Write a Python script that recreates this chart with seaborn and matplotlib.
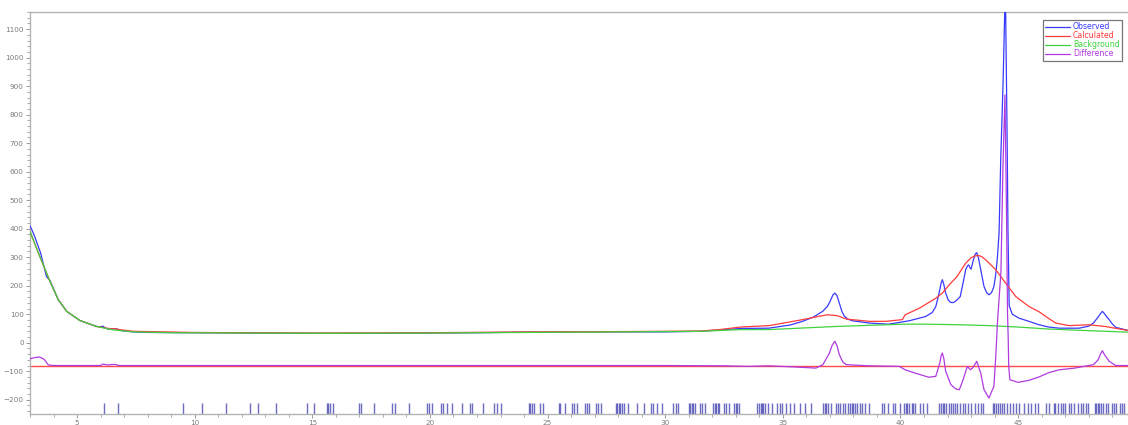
import matplotlib
matplotlib.use("Agg")
import matplotlib.pyplot as plt
from matplotlib.ticker import MultipleLocator
import seaborn as sns
import pandas as pd

# --- observed pattern (2theta, counts) ---
obs_x = [3.0, 3.1, 3.2, 3.45, 3.7, 3.85, 4.2, 4.56, 5.12, 5.83, 6.0, 6.1, 6.2, 6.3, 6.6,
         6.7, 6.9, 7.4, 8.0, 10.0, 12.0, 15.0, 18.0, 20.0, 22.0, 24.0, 26.0, 28.0, 30.0,
         31.5, 32.3, 33.2, 34.4, 35.3, 35.84, 36.3, 36.69, 36.9, 37.04, 37.13, 37.21,
         37.3, 37.4, 37.5, 37.6, 37.75, 37.96, 38.67, 39.5, 40.37, 41.07, 41.35, 41.5,
         41.6, 41.67, 41.73, 41.78, 41.84, 41.92, 42.03, 42.14, 42.26, 42.4, 42.54, 42.66,
         42.77, 42.85, 42.9, 42.96, 43.0, 43.08, 43.17, 43.24, 43.32, 43.41, 43.55, 43.66,
         43.76, 43.87, 43.97, 44.05, 44.12, 44.19, 44.26, 44.36, 44.43, 44.47, 44.53,
         44.57, 44.62, 44.75, 45.04, 45.46, 45.89, 46.3, 46.74, 47.59, 48.0, 48.2, 48.4,
         48.5, 48.58, 48.67, 48.77, 48.87, 49.0, 49.15, 49.67]
obs_y = [410, 392, 372, 315, 232, 218, 151, 110, 78, 57, 56, 58, 52, 48, 49,
         48, 42, 38, 36, 35, 34, 33, 33, 34, 35, 37, 38, 38, 38,
         40, 45, 50, 51, 62, 75, 90, 110, 128, 151, 168, 174,
         165, 139, 112, 95, 83, 77, 69, 65, 77, 92, 106, 127,
         160, 186, 210, 221, 205, 174, 150, 141, 141, 150, 162, 210,
         256, 270, 273, 262, 258, 285, 310, 316, 295, 256, 197, 176,
         168, 176, 197, 240, 300, 385, 641, 910, 1160, 1160, 735,
         385, 130, 100, 86, 75, 63, 55, 51, 51, 58, 69, 90,
         102, 110, 102, 90, 81, 66, 54, 43]

# --- calculated pattern ---
calc_x = [3.0, 3.42, 3.85, 4.2, 4.56, 5.12, 5.83, 6.5, 6.6, 6.8, 7.4, 10.0, 15.0, 20.0,
          24.0, 28.0, 31.5, 32.3, 33.2, 34.42, 35.84, 36.5, 36.9, 37.3, 37.7, 38.67,
          39.37, 40.08, 40.2, 40.8, 41.5, 41.78, 42.07, 42.4, 42.77, 43.0, 43.15, 43.31,
          43.45, 43.62, 44.05, 44.47, 44.9, 45.46, 45.9, 46.3, 46.6, 47.16, 48.0, 48.7,
          49.67]
calc_y = [390, 302, 215, 151, 110, 78, 57, 48, 50, 46, 40, 36, 34, 35,
          38, 39, 41, 46, 55, 60, 81, 92, 98, 95, 83, 75,
          75, 81, 98, 121, 156, 174, 203, 232, 279, 298, 304, 306,
          302, 291, 256, 209, 162, 127, 108, 85, 69, 60, 63, 57,
          43]

# --- refined background ---
bkg_x = [3.0, 3.42, 3.85, 4.2, 4.56, 5.12, 5.83, 6.53, 7.4, 9.0, 12.3, 16.0, 20.0, 24.0,
         28.0, 31.5, 33.2, 34.4, 37.25, 40.08, 41.2, 42.5, 43.76, 45.0, 46.3, 47.5, 49.67]
bkg_y = [390, 302, 215, 151, 110, 78, 57, 45, 38, 35, 34, 33, 34, 36,
         38, 40, 46, 46, 57, 65, 65, 63, 60, 55, 48, 44, 37]

# --- difference curve (observed - calculated), drawn shifted by DIFF_OFFSET ---
DIFF_OFFSET = -80
diff_x = [3.0, 3.1, 3.2, 3.4, 3.6, 3.78, 4.0, 6.0, 6.1, 6.3, 6.6, 6.8, 10.0, 20.0, 30.0,
          32.5, 33.5, 34.4, 35.5, 36.4, 36.7, 36.98, 37.1, 37.21, 37.3, 37.4, 37.55, 37.7,
          38.67, 39.95, 40.2, 40.6, 41.2, 41.5, 41.67, 41.73, 41.78, 41.84, 41.92, 42.14,
          42.35, 42.5, 42.66, 42.84, 42.98, 43.1, 43.24, 43.41, 43.55, 43.76, 43.97,
          44.05, 44.12, 44.27, 44.35, 44.44, 44.5, 44.55, 44.58, 44.6, 44.65, 45.0, 45.46,
          45.89, 46.3, 46.74, 47.4, 48.2, 48.4, 48.5, 48.58, 48.67, 48.87, 49.15, 49.67]
diff_y = [23, 26, 28, 30, 22, 2, 0, 0, 5, 2, 4, 0, 0, 0, 0,
          -1, -3, -1, -5, -9, 3, 44, 72, 85, 70, 38, 12, 3,
          -1, -3, -15, -26, -41, -38, 9, 35, 44, 25, -20, -67,
          -82, -85, -50, -3, -15, -5, 15, -26, -85, -114, -73,
          32, 149, 330, 680, 949, 580, 180, 90, -3, -50, -59, -52,
          -40, -25, -15, -9, 3, 20, 40, 52, 38, 15, 0, 0]

# --- reflection positions ---
hkl_pos = [6.13, 6.73, 9.52, 10.32, 11.35, 12.34, 12.67, 13.47, 14.79, 15.07, 15.61, 15.67,
           15.75, 15.87, 16.99, 17.07, 17.63, 18.37, 18.52, 19.09, 19.89, 19.96, 20.10,
           20.49, 20.57, 20.73, 20.95, 21.38, 21.71, 21.78, 22.27, 22.71, 22.84, 23.03,
           24.19, 24.27, 24.33, 24.42, 24.66, 24.80,
           25.49, 25.54, 25.74, 26.05, 26.14, 26.26, 26.57, 26.66, 26.75, 27.06, 27.15,
           27.28, 27.89, 27.95, 28.02, 28.08, 28.17, 28.26, 28.42, 28.78, 29.09, 29.40,
           29.49, 29.65, 29.86, 30.32, 30.45, 30.54, 31.00, 31.06, 31.12, 31.18, 31.25,
           31.49, 31.58, 31.68, 32.05, 32.11, 32.17, 32.23, 32.29, 32.48, 32.57, 32.69,
           32.94, 33.00, 33.06, 33.12, 33.92, 33.98, 34.05, 34.11, 34.17, 34.23, 34.38,
           34.54, 34.75, 34.88, 34.97, 35.12, 35.31, 35.49, 35.74, 35.95, 36.20, 36.72,
           36.78, 36.85, 36.91, 37.06, 37.25, 37.34, 37.43, 37.55, 37.65, 37.77, 37.86,
           37.92, 37.98, 38.05, 38.14, 38.26, 38.35, 38.48, 38.66, 39.22, 39.31, 39.49,
           39.68, 39.77, 39.98, 40.14, 40.23, 40.29, 40.38, 40.48, 40.54, 40.63, 40.85,
           40.94, 41.12, 41.65, 41.74, 41.80, 41.86, 41.95, 42.05, 42.14, 42.23, 42.32,
           42.42, 42.51, 42.66, 42.75, 42.88, 43.00, 43.18, 43.31, 43.43, 43.49, 43.92,
           43.98, 44.05, 44.14, 44.23, 44.32, 44.42, 44.54, 44.66, 44.78, 44.91, 45.03,
           45.25, 45.40, 45.55, 45.71, 45.86, 46.20, 46.32, 46.51, 46.57, 46.69, 46.82,
           46.91, 47.00, 47.15, 47.25, 47.37, 47.55, 47.68, 47.77, 47.89, 47.98, 48.26,
           48.32, 48.38, 48.45, 48.51, 48.60, 48.72, 48.82, 48.97, 49.06, 49.15, 49.34,
           49.43, 49.52]

x_ticks = [5, 10, 15, 20, 25, 30, 35, 40, 45]
y_ticks = [-200, -100, 0, 100, 200, 300, 400, 500, 600, 700, 800, 900, 1000, 1100]

sns.set_style("white")
plt.rcParams["font.family"] = ["DejaVu Sans"]

fig = plt.figure(figsize=(11.28, 4.25), dpi=100)
ax = fig.add_axes([30 / 1128, 11 / 425, 1 - 30 / 1128, 1 - 11 / 425 - 12 / 425])

c_obs = "#3a3aff"
c_calc = "#ff3b3b"
c_bkg = "#3fd23f"
c_diff = "#b03ae0"

obs = pd.DataFrame({"x": obs_x, "y": obs_y})
calc = pd.DataFrame({"x": calc_x, "y": calc_y})
bkg = pd.DataFrame({"x": bkg_x, "y": bkg_y})
diff = pd.DataFrame({"x": diff_x, "y": [v + DIFF_OFFSET for v in diff_y]})

# zero line of the difference curve
ax.axhline(DIFF_OFFSET, color="#ff4a4a", lw=1.0, zorder=1)

sns.lineplot(data=obs, x="x", y="y", ax=ax, color=c_obs, lw=0.9, sort=False,
             label="Observed", zorder=3)
sns.lineplot(data=calc, x="x", y="y", ax=ax, color=c_calc, lw=0.9, sort=False,
             label="Calculated", zorder=4)
sns.lineplot(data=bkg, x="x", y="y", ax=ax, color=c_bkg, lw=0.9, sort=False,
             label="Background", zorder=5)
sns.lineplot(data=diff, x="x", y="y", ax=ax, color=c_diff, lw=0.9, sort=False,
             label="Difference", zorder=6)

# reflection markers
ax.vlines(hkl_pos, -250, -212, color="#5252b8", lw=1.0, alpha=0.85, zorder=2)

ax.set_xlim(3.0, 49.67)
ax.set_ylim(-250, 1160)
ax.set_xticks(x_ticks)
ax.set_yticks(y_ticks)
ax.xaxis.set_minor_locator(MultipleLocator(1))
ax.yaxis.set_minor_locator(MultipleLocator(20))
ax.set_xlabel("")
ax.set_ylabel("")

grey = "#9a9a9a"
for side in ["left", "top", "bottom"]:
    ax.spines[side].set_color("#b4b4b4")
    ax.spines[side].set_linewidth(1.0)
ax.spines["right"].set_visible(False)
ax.tick_params(axis="both", which="major", direction="out", length=3, width=0.7,
               color=grey, labelcolor="#7c7c7c", labelsize=5.2, pad=1.5)
ax.tick_params(axis="both", which="minor", direction="out", length=2, width=0.6,
               color=grey)
ax.tick_params(axis="x", which="both", bottom=True, top=False)
ax.tick_params(axis="y", which="both", left=True, right=False)

leg = ax.legend(loc="upper right", bbox_to_anchor=(0.9945, 0.98), borderaxespad=0,
                fontsize=5.6, frameon=True, fancybox=False, handlelength=3.2,
                handletextpad=0.4, labelspacing=0.0, borderpad=0.3)
leg.get_frame().set_edgecolor("#555555")
leg.get_frame().set_linewidth(0.9)
for txt, col in zip(leg.get_texts(), [c_obs, c_calc, c_bkg, c_diff]):
    txt.set_color(col)

fig.savefig("out.png", dpi=100)
